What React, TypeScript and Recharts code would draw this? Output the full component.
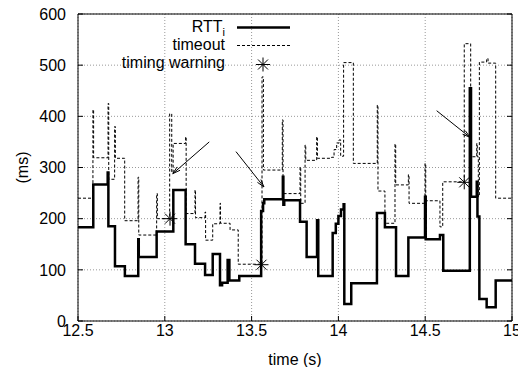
import {
  CartesianGrid,
  ComposedChart,
  Label,
  Line,
  ReferenceLine,
  Scatter,
  XAxis,
  YAxis,
} from 'recharts'

const FONT = "'Liberation Sans', Arial, Helvetica, sans-serif"

// time (s) / value (ms), plotted as steps
const timeoutTime = [
  12.5, 12.586, 12.59, 12.673, 12.677, 12.711, 12.715, 12.769, 12.846, 12.85,
  12.953, 12.957, 13.028, 13.04, 13.048, 13.12, 13.123, 13.174, 13.177, 13.232,
  13.235, 13.276, 13.318, 13.321, 13.376, 13.423, 13.56, 13.568, 13.677, 13.681,
  13.779, 13.783, 13.808, 13.812, 13.875, 13.879, 13.961, 13.975, 13.99, 14.005,
  14.013, 14.03, 14.086, 14.224, 14.228, 14.268, 14.326, 14.33, 14.403, 14.407,
  14.499, 14.503, 14.585, 14.601, 14.725, 14.762, 14.797, 14.8, 14.806, 14.812,
  14.854, 14.862, 14.906, 15,
]
const timeoutMs = [
  240, 413, 319, 425, 277, 380, 318, 196, 281, 168,
  249, 200, 405, 290, 347, 360, 210, 256, 202, 213,
  158, 190, 230, 191, 178, 111, 477, 295, 393, 249,
  301, 230, 344, 314, 360, 318, 320, 335, 348, 354,
  322, 505, 308, 422, 254, 191, 346, 266, 286, 230,
  308, 235, 184, 272, 542, 321, 347, 321, 243, 506,
  513, 504, 240, 240,
]

const rttTime = [
  12.5, 12.588, 12.671, 12.675, 12.713, 12.77, 12.847, 12.85, 12.953, 13.049,
  13.12, 13.174, 13.232, 13.276, 13.318, 13.33, 13.362, 13.372, 13.429, 13.555,
  13.566, 13.573, 13.68, 13.683, 13.688, 13.779, 13.817, 13.877, 13.884, 13.967,
  13.985, 14.0, 14.015, 14.03, 14.034, 14.074, 14.222, 14.268, 14.332, 14.403,
  14.499, 14.503, 14.585, 14.604, 14.757, 14.764, 14.797, 14.801, 14.812, 14.854,
  14.906, 15,
]
const rttMs = [
  183, 267, 290, 185, 107, 88, 160, 125, 175, 256,
  150, 112, 90, 131, 70, 75, 119, 79, 88, 215,
  230, 238, 282, 227, 236, 194, 125, 197, 88, 172,
  190, 205, 218, 228, 33, 74, 211, 183, 88, 163,
  243, 160, 168, 98, 455, 243, 272, 204, 43, 27,
  79, 79,
]

const warningTime = [13.03, 13.557, 14.725]
const warningMs = [200, 110, 271]

// annotation arrows: tail -> head
const arrowTail = [
  { t: 13.256, ms: 350 },
  { t: 13.41, ms: 331 },
  { t: 14.566, ms: 411 },
]
const arrowHead = [
  { t: 13.046, ms: 288 },
  { t: 13.571, ms: 262 },
  { t: 14.758, ms: 359 },
]

const xTicks = [12.5, 13, 13.5, 14, 14.5, 15]
const yTicks = [0, 100, 200, 300, 400, 500, 600]

const rttData = rttTime.map((t, i) => ({ t, v: rttMs[i] }))
const timeoutData = timeoutTime.map((t, i) => ({ t, v: timeoutMs[i] }))
const warningData = warningTime.map((t, i) => ({ t, v: warningMs[i] }))

function Star(props: any) {
  const { cx, cy } = props
  const r = 7
  const d = 5
  return (
    <g stroke="#000" strokeWidth={1}>
      <line x1={cx - r} y1={cy} x2={cx + r} y2={cy} />
      <line x1={cx} y1={cy - r} x2={cx} y2={cy + r} />
      <line x1={cx - d} y1={cy - d} x2={cx + d} y2={cy + d} />
      <line x1={cx - d} y1={cy + d} x2={cx + d} y2={cy - d} />
    </g>
  )
}

function Arrow(props: any) {
  const { x1, y1, x2, y2 } = props
  const a = Math.atan2(y2 - y1, x2 - x1)
  const len = 8
  const s = 0.28
  const ax = x2 - len * Math.cos(a - s)
  const ay = y2 - len * Math.sin(a - s)
  const bx = x2 - len * Math.cos(a + s)
  const by = y2 - len * Math.sin(a + s)
  return (
    <g stroke="#000" strokeWidth={1} fill="none">
      <line x1={x1} y1={y1} x2={x2} y2={y2} />
      <polyline points={`${ax},${ay} ${x2},${y2} ${bx},${by}`} />
    </g>
  )
}

function LegendBox() {
  const row = { display: 'flex', alignItems: 'center', height: 18 } as const
  const txt = { width: 117, textAlign: 'right', lineHeight: '16px', whiteSpace: 'nowrap' } as const
  return (
    <div
      style={{
        position: 'absolute',
        left: 108,
        top: 18,
        fontFamily: FONT,
        fontSize: 16,
        color: '#000',
      }}
    >
      <div style={row}>
        <span style={txt}>
          RTT<span style={{ fontSize: 11, position: 'relative', top: 4 }}>i</span>
        </span>
        <svg width={66} height={17}>
          <line x1={12} y1={8.5} x2={65} y2={8.5} stroke="#000" strokeWidth={2.5} />
        </svg>
      </div>
      <div style={row}>
        <span style={txt}>timeout</span>
        <svg width={66} height={17}>
          <line x1={12} y1={8.5} x2={65} y2={8.5} stroke="#000" strokeWidth={1} strokeDasharray="3 2" />
        </svg>
      </div>
      <div style={row}>
        <span style={txt}>timing warning</span>
        <svg width={66} height={17}>
          <Star cx={38} cy={9.5} />
        </svg>
      </div>
    </div>
  )
}

export default function App() {
  return (
    <div style={{ position: 'relative', width: 526, height: 375, margin: -8, fontFamily: FONT }}>
      <ComposedChart
        width={526}
        height={375}
        margin={{ top: 13, right: 13, left: 0, bottom: 0 }}
      >
        <CartesianGrid strokeDasharray="1 2" stroke="#999" />
        <XAxis
          dataKey="t"
          type="number"
          domain={[12.5, 15]}
          ticks={xTicks}
          interval={0}
          allowDataOverflow
          height={54}
          tickSize={-5}
          tickMargin={9}
          stroke="#000"
          tick={{ fill: '#000', fontSize: 16 }}
        >
          <Label value="time (s)" position="insideBottom" offset={10} fill="#000" fontSize={16} />
        </XAxis>
        <XAxis
          xAxisId="top"
          orientation="top"
          type="number"
          domain={[12.5, 15]}
          ticks={xTicks}
          interval={0}
          allowDataOverflow
          height={1}
          tickSize={-5}
          tickFormatter={() => ''}
          stroke="#000"
        />
        <YAxis
          type="number"
          domain={[0, 600]}
          ticks={yTicks}
          interval={0}
          allowDataOverflow
          width={78}
          tickSize={-5}
          tickMargin={17}
          stroke="#000"
          tick={{ fill: '#000', fontSize: 16 }}
        >
          <Label
            value="(ms)"
            angle={-90}
            position="center"
            dx={-17}
            fill="#000"
            fontSize={16}
          />
        </YAxis>
        <YAxis
          yAxisId="right"
          orientation="right"
          type="number"
          domain={[0, 600]}
          ticks={yTicks}
          interval={0}
          allowDataOverflow
          width={1}
          tickSize={-5}
          tickFormatter={() => ''}
          stroke="#000"
        />
        <Line
          data={timeoutData}
          dataKey="v"
          type="stepAfter"
          stroke="#000"
          strokeWidth={1}
          strokeDasharray="3 2"
          dot={false}
          isAnimationActive={false}
        />
        <Line
          data={rttData}
          dataKey="v"
          type="stepAfter"
          stroke="#000"
          strokeWidth={2.5}
          dot={false}
          isAnimationActive={false}
        />
        <Scatter data={warningData} dataKey="v" shape={<Star />} isAnimationActive={false} />
        {arrowTail.map((p, i) => (
          <ReferenceLine
            key={i}
            segment={[
              { x: p.t, y: p.ms },
              { x: arrowHead[i].t, y: arrowHead[i].ms },
            ]}
            shape={<Arrow />}
          />
        ))}
      </ComposedChart>
      <LegendBox />
    </div>
  )
}
